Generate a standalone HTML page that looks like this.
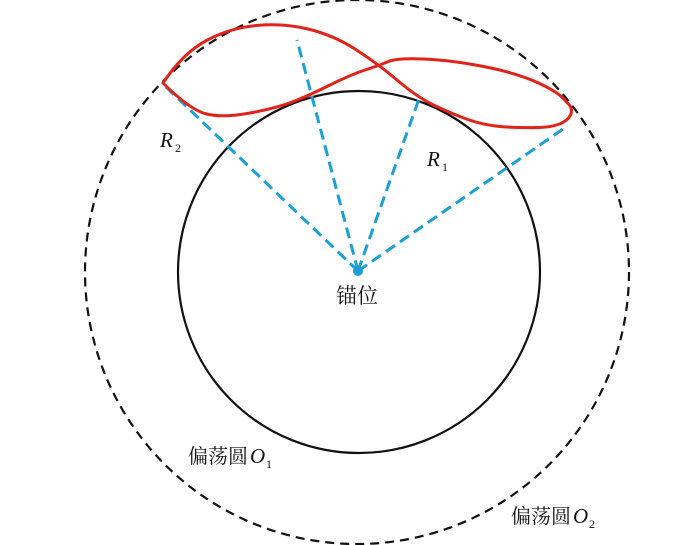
<!DOCTYPE html>
<html><head><meta charset="utf-8"><style>
html,body{margin:0;padding:0;background:#fff;}
svg{display:block;}
text{font-family:"Liberation Serif","Noto Serif CJK SC",serif;fill:#111;}
</style></head><body>
<svg width="700" height="545" viewBox="0 0 700 545" xmlns="http://www.w3.org/2000/svg">
<circle cx="357" cy="272" r="272" fill="none" stroke="#111" stroke-width="2.2" stroke-dasharray="9,6"/>
<circle cx="359" cy="272" r="181" fill="none" stroke="#111" stroke-width="2.2"/>
<g stroke="#1a9fd8" stroke-width="3" stroke-dasharray="11,6" fill="none">
<line x1="358" y1="271" x2="165" y2="86"/>
<line x1="358" y1="271" x2="297" y2="40"/>
<line x1="358" y1="271" x2="420" y2="96"/>
<line x1="358" y1="271" x2="563" y2="129"/>
</g>
<circle cx="358" cy="271" r="5" fill="#1a9fd8"/>
<path d="M163,83 Q183,53 206.5,40.5 Q230,28 256.5,25.5 Q283,23 308,29 Q333,35 355,49 Q377,63 397,80 Q417,97 433.5,105 Q450,113 466.5,119 Q483,125 500,126.5 Q517,128 538.5,127.5 Q560,127 568,118.5 Q576,110 566,101.5 Q560,93 538.5,83 Q517,73 483.5,66.5 Q450,60 423.5,59 Q397,58 388.5,61.5 Q380,65 365,70 Q350,75 330,85 Q310,95 293.5,101.5 Q277,108 250,113 Q223,118 206.5,114 Q190,110 163,83 Z" fill="none" stroke="#e2231a" stroke-width="3" stroke-linejoin="round"/>
<text x="160" y="147" font-size="21" font-style="italic">R</text>
<text x="175" y="152" font-size="12">2</text>
<text x="427" y="166" font-size="21" font-style="italic">R</text>
<text x="442" y="171" font-size="12">1</text>
<text x="336" y="303" font-size="21" font-family="Noto Serif CJK SC, serif">锚位</text>
<text x="188" y="463" font-size="20" font-family="Noto Serif CJK SC, serif">偏荡圆</text>
<text x="250" y="463" font-size="21" font-style="italic">O</text>
<text x="266" y="468" font-size="12">1</text>
<text x="511" y="523" font-size="20" font-family="Noto Serif CJK SC, serif">偏荡圆</text>
<text x="573" y="523" font-size="21" font-style="italic">O</text>
<text x="589" y="528" font-size="12">2</text>
</svg>
</body></html>
